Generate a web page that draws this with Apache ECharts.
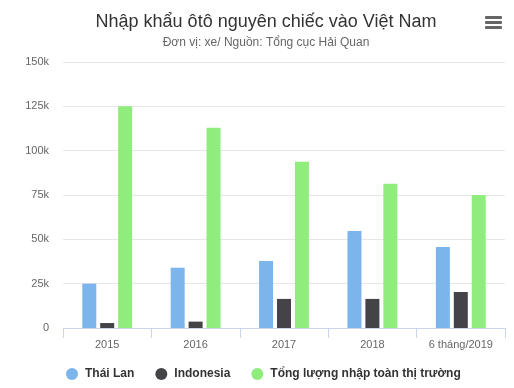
<!DOCTYPE html>
<html><head><meta charset="utf-8">
<script src="https://cdn.jsdelivr.net/npm/echarts@6/dist/echarts.min.js"></script>
<style>html,body{margin:0;padding:0;background:#fff}#c{width:514px;height:388px}</style>
</head><body><div id="c"></div>
<script>
const categories = ['2015', '2016', '2017', '2018', '6 tháng/2019'];
const thaiLan = [25000, 34000, 37800, 54700, 45700];
const indonesia = [2800, 3600, 16400, 16400, 20300];
const tongLuong = [125000, 112900, 93700, 81300, 75000];
const seriesNames = ['Thái Lan', 'Indonesia', 'Tổng lượng nhập toàn thị trường'];
const colors = ['#7cb5ec', '#434348', '#90ed7d'];
const FONT = '"Liberation Sans", Arial, sans-serif';
const chart = echarts.init(document.getElementById('c'));
const mk = (name, data, i) => ({
  name, type: 'bar', data, barWidth: 14, barGap: '28%',
  itemStyle: { color: colors[i] }
});
chart.setOption({
  animation: false,
  textStyle: { fontFamily: FONT },
  title: {
    text: 'Nhập khẩu ôtô nguyên chiếc vào Việt Nam',
    subtext: 'Đơn vị: xe/ Nguồn: Tổng cục Hải Quan',
    left: 261, textAlign: 'center', top: 8, itemGap: 6,
    textStyle: { fontFamily: FONT, fontSize: 18, fontWeight: 'normal', color: '#333' },
    subtextStyle: { fontFamily: FONT, fontSize: 12, color: '#666' }
  },
  legend: {
    bottom: 3, left: 61, icon: 'circle', itemWidth: 12, itemHeight: 12, itemGap: 21,
    textStyle: { fontFamily: FONT, fontSize: 12, fontWeight: 'bold', color: '#333', padding: [0, 0, 0, 2] },
    data: seriesNames
  },
  grid: { left: 63, right: 9, top: 62, bottom: 60 },
  xAxis: {
    type: 'category', data: categories,
    axisLine: { lineStyle: { color: '#ccd6eb' } },
    axisTick: { show: true, length: 10, lineStyle: { color: '#ccd6eb' } },
    axisLabel: { color: '#666', fontSize: 11, margin: 11, fontFamily: FONT }
  },
  yAxis: {
    type: 'value', min: 0, max: 150000, interval: 25000,
    axisLine: { show: false }, axisTick: { show: false },
    splitLine: { lineStyle: { color: '#e6e6e6' } },
    axisLabel: { color: '#666', fontSize: 11, margin: 14, fontFamily: FONT,
      formatter: v => v === 0 ? '0' : (v / 1000) + 'k' }
  },
  graphic: [
    { type: 'rect', shape: { x: 485, y: 16, width: 17, height: 3, r: 1 }, style: { fill: '#666' } },
    { type: 'rect', shape: { x: 485, y: 21, width: 17, height: 3, r: 1 }, style: { fill: '#666' } },
    { type: 'rect', shape: { x: 485, y: 26, width: 17, height: 3, r: 1 }, style: { fill: '#666' } }
  ],
  series: [mk(seriesNames[0], thaiLan, 0), mk(seriesNames[1], indonesia, 1), mk(seriesNames[2], tongLuong, 2)]
});
</script></body></html>
